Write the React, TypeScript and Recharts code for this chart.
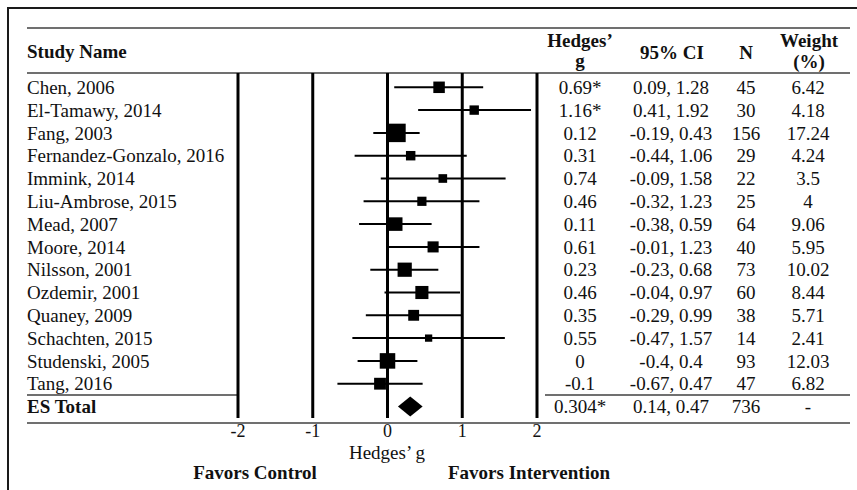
import { Area, ComposedChart, ReferenceLine, Scatter, XAxis, YAxis } from "recharts";

const studies = [
  "Chen, 2006",
  "El-Tamawy, 2014",
  "Fang, 2003",
  "Fernandez-Gonzalo, 2016",
  "Immink, 2014",
  "Liu-Ambrose, 2015",
  "Mead, 2007",
  "Moore, 2014",
  "Nilsson, 2001",
  "Ozdemir, 2001",
  "Quaney, 2009",
  "Schachten, 2015",
  "Studenski, 2005",
  "Tang, 2016",
];
const hedgesG = [0.69, 1.16, 0.12, 0.31, 0.74, 0.46, 0.11, 0.61, 0.23, 0.46, 0.35, 0.55, 0, -0.1];
const significant = [true, true, false, false, false, false, false, false, false, false, false, false, false, false];
const ciLow = [0.09, 0.41, -0.19, -0.44, -0.09, -0.32, -0.38, -0.01, -0.23, -0.04, -0.29, -0.47, -0.4, -0.67];
const ciHigh = [1.28, 1.92, 0.43, 1.06, 1.58, 1.23, 0.59, 1.23, 0.68, 0.97, 0.99, 1.57, 0.4, 0.47];
const sampleN = [45, 30, 156, 29, 22, 25, 64, 40, 73, 60, 38, 14, 93, 47];
const weights = [6.42, 4.18, 17.24, 4.24, 3.5, 4, 9.06, 5.95, 10.02, 8.44, 5.71, 2.41, 12.03, 6.82];

const totalLabel = "ES Total";
const totalG = 0.304;
const totalLow = 0.14;
const totalHigh = 0.47;
const totalN = 736;

const xTicks = [-2, -1, 0, 1, 2];

const FONT = "'Liberation Serif', 'Times New Roman', serif";
const TOTAL_ROW = studies.length;

const studyPoints = studies.map((name, i) => ({ name, x: hedgesG[i], row: i, w: weights[i] }));

// diamond for pooled estimate, drawn as a band area
const diamond = [
  { x: totalLow, band: [TOTAL_ROW, TOTAL_ROW] },
  { x: totalG, band: [TOTAL_ROW - 0.44, TOTAL_ROW + 0.44] },
  { x: totalHigh, band: [TOTAL_ROW, TOTAL_ROW] },
];

const rowTicks = [...studies.map((_, i) => i), TOTAL_ROW];

const fmtCi = (lo: number, hi: number) => `${lo}, ${hi}`;

function RowTick(props: any) {
  const { y, payload } = props;
  const i = payload.value as number;
  const isTotal = i === TOTAL_ROW;
  const cols = isTotal
    ? [`${totalG}*`, fmtCi(totalLow, totalHigh), String(totalN), "-"]
    : [`${hedgesG[i]}${significant[i] ? "*" : ""}`, fmtCi(ciLow[i], ciHigh[i]), String(sampleN[i]), String(weights[i])];
  const colX = [580, 671, 746, 808];
  return (
    <g fontFamily={FONT} fontSize={19} fill="#111">
      <text x={27} y={y} dy="0.35em" textAnchor="start" fontWeight={isTotal ? "bold" : "normal"}>
        {isTotal ? totalLabel : studies[i]}
      </text>
      {cols.map((c, k) => (
        <text key={k} x={colX[k]} y={y} dy="0.35em" textAnchor="middle">
          {c}
        </text>
      ))}
    </g>
  );
}

function Square(props: any) {
  const { cx, cy, payload } = props;
  const s = 4.3 * Math.sqrt(payload.w) + 0.6;
  return <rect x={cx - s / 2} y={cy - s / 2} width={s} height={s} fill="#000" />;
}

function Txt({ x, y, children, bold, anchor = "center" }: any) {
  return (
    <div
      style={{
        position: "absolute",
        left: x,
        top: y,
        transform: anchor === "center" ? "translate(-50%, -50%)" : "translate(0, -50%)",
        fontFamily: FONT,
        fontSize: 19,
        lineHeight: 1,
        fontWeight: bold ? "bold" : "normal",
        color: "#111",
        whiteSpace: "nowrap",
      }}
    >
      {children}
    </div>
  );
}

function Rule({ x1, x2, y }: { x1: number; x2: number; y: number }) {
  return <div style={{ position: "absolute", left: x1, top: y - 1, width: x2 - x1, height: 2, background: "#707070" }} />;
}

export default function App() {
  return (
    <div style={{ position: "fixed", left: 0, top: 0, width: 857, height: 490, overflow: "hidden", background: "#fff" }}>
      <div style={{ position: "absolute", left: 7, top: 7, width: 900, height: 600, borderTop: "2px solid #1a1a1a", borderLeft: "2px solid #1a1a1a" }} />

      <Rule x1={27} x2={850} y={28} />
      <Rule x1={27} x2={850} y={73} />
      <Rule x1={27} x2={238} y={395} />
      <Rule x1={545} x2={850} y={395} />
      <Rule x1={27} x2={850} y={423} />

      <div style={{ position: "absolute", left: 0, top: 0 }}>
        <ComposedChart width={857} height={490} margin={{ top: 73, right: 320, bottom: 42, left: 0 }}>
          <XAxis
            type="number"
            dataKey="x"
            domain={[-2, 2]}
            ticks={xTicks}
            allowDataOverflow
            axisLine={false}
            tickLine={false}
            tickMargin={0}
            height={30}
            tick={{ fill: "#111", fontSize: 18, fontFamily: FONT }}
          />
          <YAxis
            type="number"
            dataKey="row"
            domain={[-0.627, 14.504]}
            reversed
            allowDataOverflow
            ticks={rowTicks}
            interval={0}
            width={238}
            axisLine={false}
            tickLine={false}
            tick={<RowTick />}
          />
          {xTicks.map((t) => (
            <ReferenceLine key={t} x={t} stroke="#000" strokeWidth={3} />
          ))}
          {studies.map((s, i) => (
            <ReferenceLine
              key={s}
              segment={[
                { x: ciLow[i], y: i },
                { x: ciHigh[i], y: i },
              ]}
              stroke="#000"
              strokeWidth={2}
              ifOverflow="visible"
            />
          ))}
          <Scatter data={studyPoints} shape={<Square />} isAnimationActive={false} />
          <Area
            data={diamond}
            dataKey="band"
            type="linear"
            stroke="none"
            fill="#000"
            fillOpacity={1}
            isAnimationActive={false}
            dot={false}
            activeDot={false}
          />
        </ComposedChart>
      </div>

      <Txt x={27} y={51} bold anchor="start">Study Name</Txt>
      <Txt x={580} y={40} bold>Hedges’</Txt>
      <Txt x={580} y={60} bold>g</Txt>
      <Txt x={672} y={52} bold>95% CI</Txt>
      <Txt x={746} y={52} bold>N</Txt>
      <Txt x={809} y={40} bold>Weight</Txt>
      <Txt x={809} y={61} bold>(%)</Txt>

      <Txt x={387} y={452}>Hedges’ g</Txt>
      <Txt x={255} y={472} bold>Favors Control</Txt>
      <Txt x={529} y={472} bold>Favors Intervention</Txt>
    </div>
  );
}
